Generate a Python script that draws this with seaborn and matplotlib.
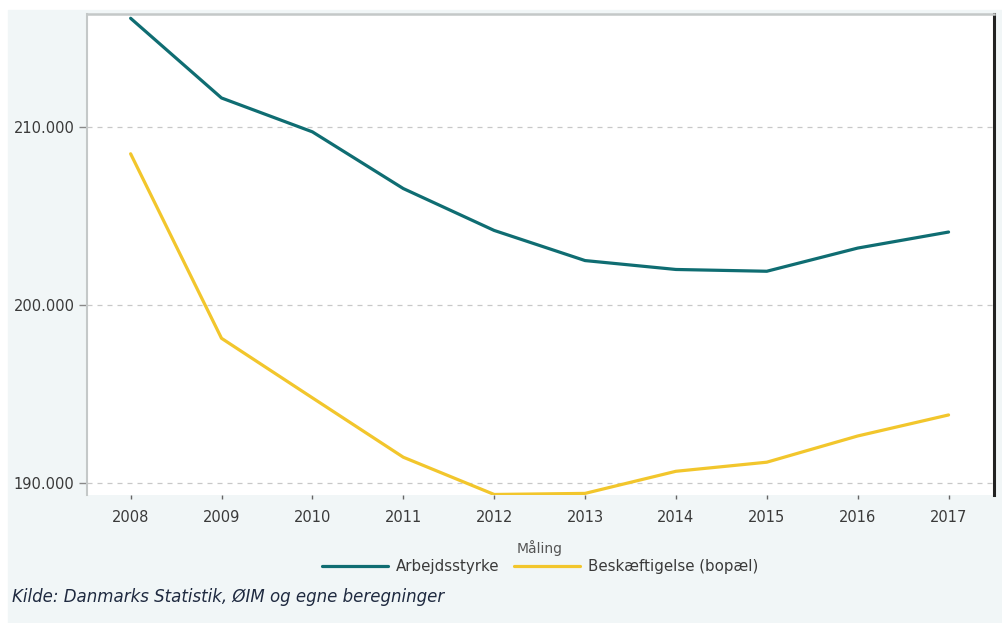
import matplotlib
matplotlib.use("Agg")
import matplotlib.pyplot as plt
import matplotlib.ticker as mticker
from matplotlib.patches import Rectangle
import numpy as np
import pandas as pd
import seaborn as sns

# ── Data ────────────────────────────────────────────────────────────────────
YEARS = [2008, 2009, 2010, 2011, 2012, 2013, 2014, 2015, 2016, 2017]
ARBEJDSSTYRKE = [216090, 211620, 209720, 206540, 204190, 202500, 202000, 201900, 203200, 204100]
BESKAEFTIGELSE = [208490, 198140, 194800, 191470, 189380, 189440, 190680, 191190, 192660, 193840]
SERIES = ["Arbejdsstyrke", "Beskæftigelse (bopæl)"]
Y_TICKS = [190000, 200000, 210000]

# ── Style ───────────────────────────────────────────────────────────────────
TEAL = "#0f6d72"
YELLOW = "#f2c62c"
PANEL = "#f1f6f7"
TEXT = "#3a3a3a"

df = pd.DataFrame({
    "År": YEARS * 2,
    "Antal": ARBEJDSSTYRKE + BESKAEFTIGELSE,
    "Måling": [SERIES[0]] * len(YEARS) + [SERIES[1]] * len(YEARS),
})

sns.set_theme(style="white")
plt.rcParams["font.family"] = ["DejaVu Sans"]

fig = plt.figure(figsize=(10.03, 6.23), dpi=100, facecolor="white")
fig.add_artist(Rectangle((8 / 1003, 0), 1 - 8 / 1003, 1 - 10 / 623,
                         transform=fig.transFigure, color=PANEL, zorder=-10))
ax = fig.add_axes([87 / 1003, 1 - 495 / 623, (994 - 87) / 1003, (495 - 14) / 623])
ax.set_facecolor("white")

sns.lineplot(data=df, x="År", y="Antal", hue="Måling",
             palette={SERIES[0]: TEAL, SERIES[1]: YELLOW},
             linewidth=2.3, ax=ax)

ax.set_xlim(2007.52, 2017.5)
ax.set_ylim(189350, 216330)
ax.set_xticks(YEARS)
ax.set_yticks(Y_TICKS)
ax.yaxis.set_major_formatter(mticker.FuncFormatter(lambda v, p: f"{v:,.0f}".replace(",", ".")))
ax.set_xlabel("")
ax.set_ylabel("")

ax.grid(axis="y", color="#c8c8c8", linestyle=(0, (4, 4)), linewidth=0.9)
ax.tick_params(axis="y", length=6, width=1, color="#888888", labelcolor=TEXT, labelsize=10.5, pad=3, left=True)
ax.tick_params(axis="x", length=3, width=1, color="#666666", labelcolor=TEXT, labelsize=10.5, pad=8, bottom=True)

ax.spines["top"].set_color("#c4c8c8")
ax.spines["top"].set_linewidth(1.8)
ax.spines["left"].set_color("#c4c8c8")
ax.spines["left"].set_linewidth(1.5)
ax.spines["right"].set_color("#222222")
ax.spines["right"].set_linewidth(2.2)
ax.spines["bottom"].set_visible(False)

sns.move_legend(ax, "lower center", bbox_to_anchor=(540 / 1003, 1 - 582 / 623),
                bbox_transform=fig.transFigure, ncol=2, title="Måling", frameon=False,
                fontsize=10.8, title_fontsize=10, handlelength=4.4, columnspacing=1.0,
                handletextpad=0.5, borderpad=0, labelspacing=0.2)
leg = ax.get_legend()
for t in leg.get_texts():
    t.set_color(TEXT)
leg.get_title().set_color("#555555")

fig.text(12 / 1003, 1 - 597 / 623, "Kilde: Danmarks Statistik, ØIM og egne beregninger",
         fontsize=12, style="italic", color="#1f2a40", va="center", ha="left")

fig.savefig("out.png", dpi=100)
